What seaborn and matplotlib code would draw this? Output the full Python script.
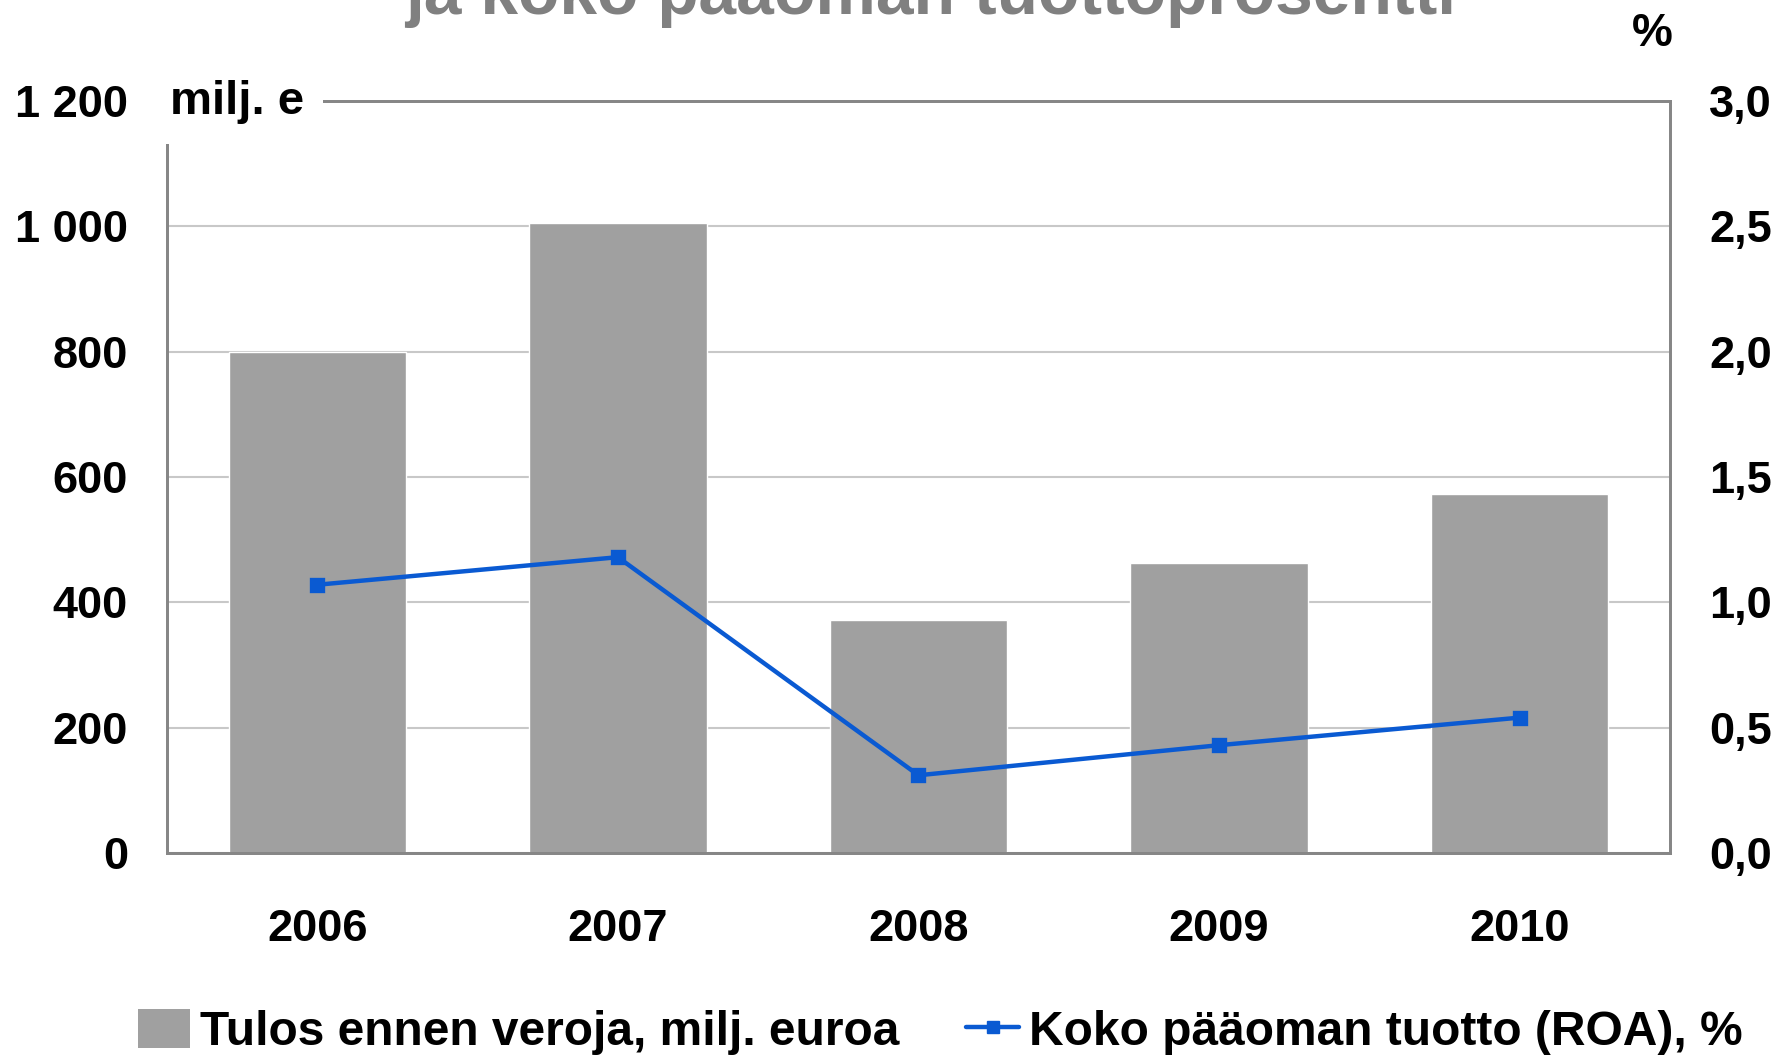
import matplotlib
matplotlib.use("Agg")
import matplotlib.pyplot as plt
import seaborn as sns
import numpy as np
from matplotlib.patches import Patch
from matplotlib.lines import Line2D

# Data
years = ["2006", "2007", "2008", "2009", "2010"]
profit = [800, 1005, 372, 462, 573]        # Tulos ennen veroja, milj. euroa
roa = [1.07, 1.18, 0.31, 0.43, 0.54]       # Koko pääoman tuotto (ROA), %

left_ticks = [0, 200, 400, 600, 800, 1000, 1200]
right_ticks = [0.0, 0.5, 1.0, 1.5, 2.0, 2.5, 3.0]

bar_color = "#a0a0a0"
line_color = "#0a5ad2"
spine_color = "#868686"
grid_color = "#c8c8c8"

sns.set_theme(style="white")
plt.rcParams["font.family"] = ["Liberation Sans", "DejaVu Sans"]
plt.rcParams["font.weight"] = "bold"
plt.rcParams["text.color"] = "black"
plt.rcParams["xtick.color"] = "black"
plt.rcParams["ytick.color"] = "black"

fig = plt.figure(figsize=(17.8, 10.55), dpi=100)
ax = fig.add_axes([0.0938, 0.1915, 0.8444, 0.7128])

sns.barplot(x=years, y=profit, ax=ax, color=bar_color, width=0.59,
            saturation=1, zorder=2)
ax.set_ylim(0, 1200)
ax.set_yticks(left_ticks)
ax.set_yticklabels([f"{v:,}".replace(",", " ") for v in left_ticks])
ax.yaxis.grid(True, color=grid_color, linewidth=1.5, zorder=0)
ax.set_axisbelow(True)
ax.set_xlabel("")
ax.set_ylabel("")

ax2 = ax.twinx()
sns.pointplot(x=years, y=roa, ax=ax2, color=line_color, markers="s",
              markersize=9, linewidth=3.2, errorbar=None)
ax2.set_ylim(0, 3.0)
ax2.set_yticks(right_ticks)
ax2.set_yticklabels([f"{v:.1f}".replace(".", ",") for v in right_ticks])
ax2.set_ylabel("")
ax2.set_xlabel("")
ax2.grid(False)

for a in (ax, ax2):
    for s in a.spines.values():
        s.set_color(spine_color)
        s.set_linewidth(2)
    a.tick_params(length=0, labelsize=32.5, labelcolor="black")
    for lab in a.get_xticklabels() + a.get_yticklabels():
        lab.set_fontweight("bold")
ax.tick_params(axis="y", pad=28)
ax2.tick_params(axis="y", pad=28)
ax.tick_params(axis="x", pad=40)

# units
fig.text(0.0955, 0.903, "milj. e", fontsize=34, fontweight="bold",
         ha="left", va="center", color="black",
         bbox=dict(facecolor="white", edgecolor="none", pad=14))
fig.text(0.928, 0.968, "%", fontsize=33, fontweight="bold",
         ha="center", va="center", color="black")

# title (top line cut off in the original)
fig.text(0.523, 0.987, "ja koko pääoman tuottoprosentti", fontsize=48.8,
         fontweight="bold", color="#808080", ha="center", va="baseline")

handles = [
    Patch(facecolor=bar_color, edgecolor="none"),
    Line2D([0], [0], color=line_color, linewidth=3.2, marker="s",
           markersize=9),
]
labels = ["Tulos ennen veroja, milj. euroa",
          "Koko pääoman tuotto (ROA), %"]
fig.legend(handles, labels, loc="center", bbox_to_anchor=(0.528, 0.022),
           ncol=2, frameon=False, handlelength=1.1, handleheight=0.9,
           handletextpad=0.2, columnspacing=1.4,
           prop={"weight": "bold", "size": 34.5})

fig.savefig("out.png", dpi=100)
